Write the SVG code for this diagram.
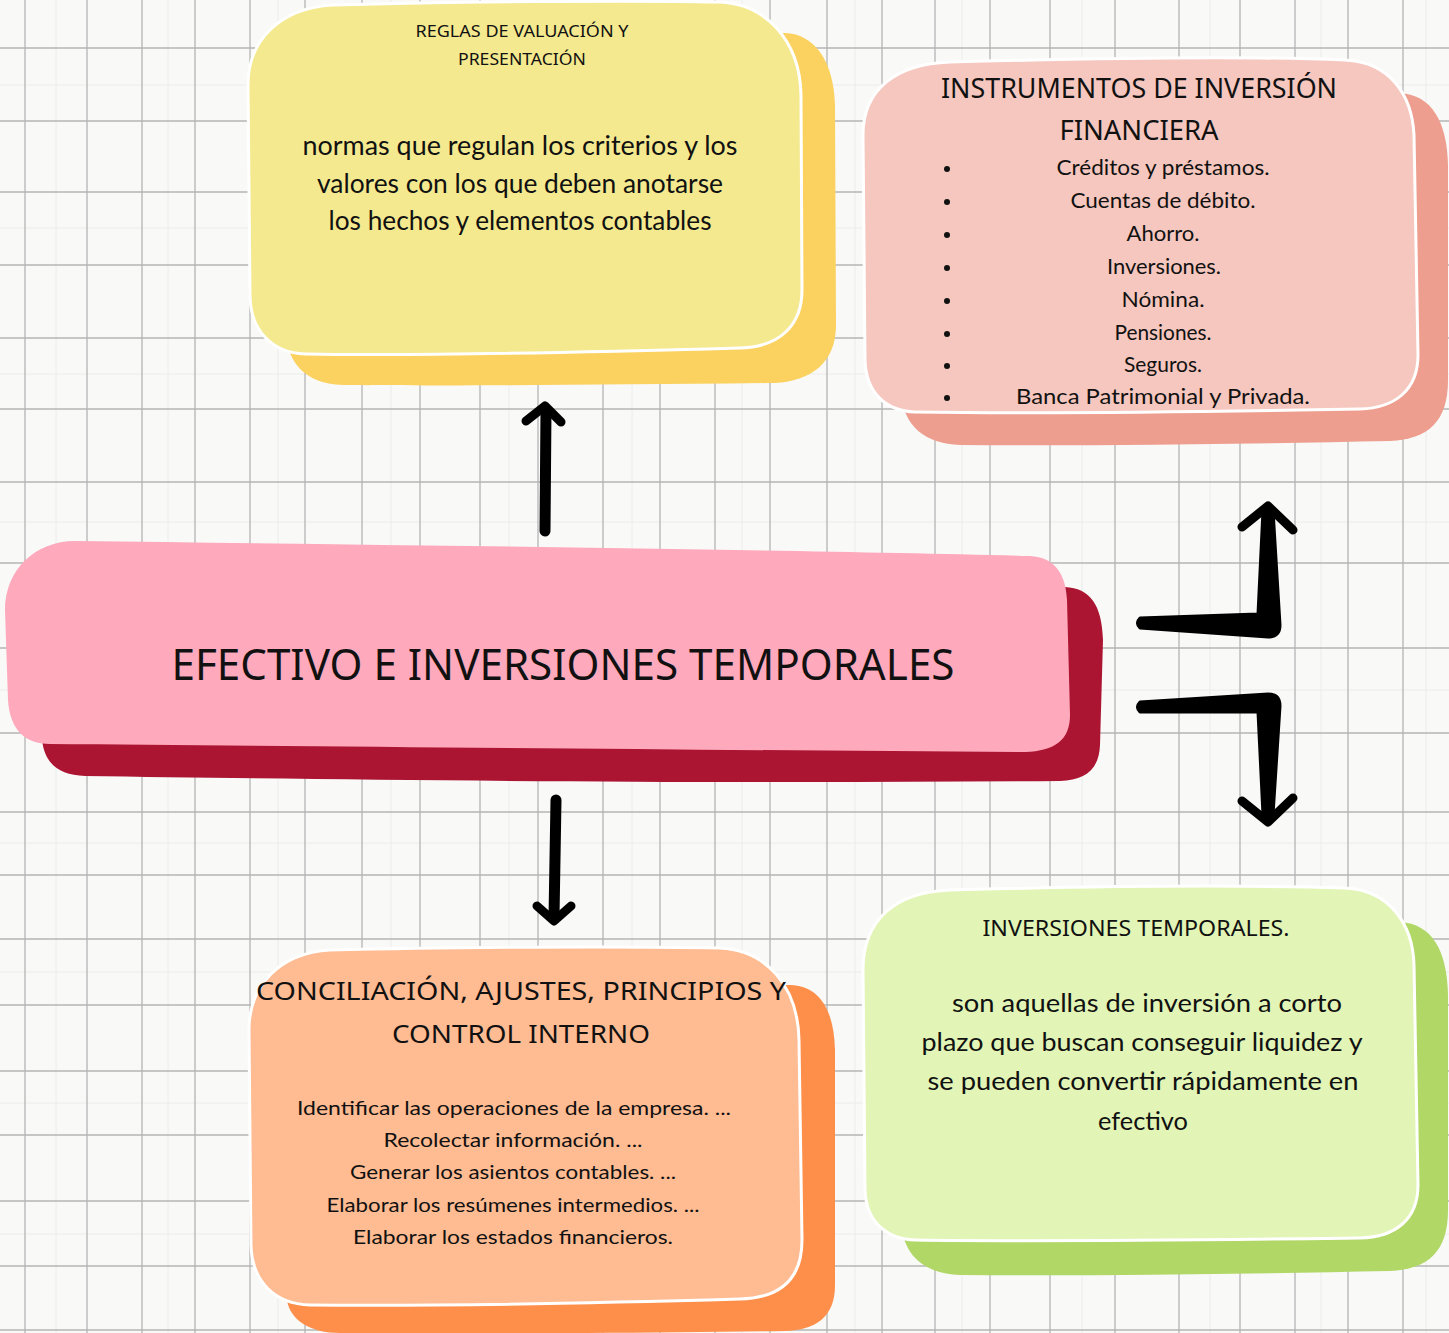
<svg xmlns="http://www.w3.org/2000/svg" width="1449" height="1333" viewBox="0 0 1449 1333">
<defs>
<style>
.bg{fill:#f9f9f8}
.grid line{stroke:#b4b4b4;stroke-width:1.3}
.minor line{stroke:#ececec;stroke-width:1}
.front{stroke:#ffffff;stroke-width:3}
.hd{font-family:"Noto Sans","Open Sans",sans-serif;fill:#111;text-anchor:middle}
.bd{font-family:"Lato","Open Sans",sans-serif;fill:#111;text-anchor:middle}
.shaft{fill:none;stroke:#000;stroke-linecap:round;stroke-linejoin:round}
.chev{fill:none;stroke:#000;stroke-width:9;stroke-linecap:round;stroke-linejoin:round}
.ell{fill:#000;stroke:#000;stroke-width:3;stroke-linejoin:round}
</style>
</defs>
<rect class="bg" x="0" y="0" width="1449" height="1333"/>
<g class="minor">
<line x1="56" y1="0" x2="56" y2="1333"/><line x1="168" y1="0" x2="168" y2="1333"/><line x1="278" y1="0" x2="278" y2="1333"/><line x1="391" y1="0" x2="391" y2="1333"/><line x1="509" y1="0" x2="509" y2="1333"/><line x1="632" y1="0" x2="632" y2="1333"/><line x1="742" y1="0" x2="742" y2="1333"/><line x1="855" y1="0" x2="855" y2="1333"/><line x1="962" y1="0" x2="962" y2="1333"/><line x1="1082" y1="0" x2="1082" y2="1333"/><line x1="1210" y1="0" x2="1210" y2="1333"/><line x1="1321" y1="0" x2="1321" y2="1333"/><line x1="1426" y1="0" x2="1426" y2="1333"/>
<line x1="0" y1="85" x2="1449" y2="85"/><line x1="0" y1="228" x2="1449" y2="228"/><line x1="0" y1="374" x2="1449" y2="374"/><line x1="0" y1="522" x2="1449" y2="522"/><line x1="0" y1="690" x2="1449" y2="690"/><line x1="0" y1="843" x2="1449" y2="843"/><line x1="0" y1="972" x2="1449" y2="972"/><line x1="0" y1="1103" x2="1449" y2="1103"/><line x1="0" y1="1234" x2="1449" y2="1234"/>
</g>
<g class="grid">
<line x1="25" y1="0" x2="25" y2="1333"/><line x1="87" y1="0" x2="87" y2="1333"/><line x1="142" y1="0" x2="142" y2="1333"/><line x1="195" y1="0" x2="195" y2="1333"/><line x1="250" y1="0" x2="250" y2="1333"/><line x1="305" y1="0" x2="305" y2="1333"/><line x1="362" y1="0" x2="362" y2="1333"/><line x1="420" y1="0" x2="420" y2="1333"/><line x1="480" y1="0" x2="480" y2="1333"/><line x1="538" y1="0" x2="538" y2="1333"/><line x1="603" y1="0" x2="603" y2="1333"/><line x1="660" y1="0" x2="660" y2="1333"/><line x1="715" y1="0" x2="715" y2="1333"/><line x1="770" y1="0" x2="770" y2="1333"/><line x1="827" y1="0" x2="827" y2="1333"/><line x1="882" y1="0" x2="882" y2="1333"/><line x1="935" y1="0" x2="935" y2="1333"/><line x1="990" y1="0" x2="990" y2="1333"/><line x1="1050" y1="0" x2="1050" y2="1333"/><line x1="1115" y1="0" x2="1115" y2="1333"/><line x1="1179" y1="0" x2="1179" y2="1333"/><line x1="1240" y1="0" x2="1240" y2="1333"/><line x1="1295" y1="0" x2="1295" y2="1333"/><line x1="1348" y1="0" x2="1348" y2="1333"/><line x1="1403" y1="0" x2="1403" y2="1333"/>
<line x1="0" y1="48" x2="1449" y2="48"/><line x1="0" y1="121" x2="1449" y2="121"/><line x1="0" y1="192" x2="1449" y2="192"/><line x1="0" y1="265" x2="1449" y2="265"/><line x1="0" y1="338" x2="1449" y2="338"/><line x1="0" y1="409" x2="1449" y2="409"/><line x1="0" y1="482" x2="1449" y2="482"/><line x1="0" y1="563" x2="1449" y2="563"/><line x1="0" y1="648" x2="1449" y2="648"/><line x1="0" y1="733" x2="1449" y2="733"/><line x1="0" y1="812" x2="1449" y2="812"/><line x1="0" y1="875" x2="1449" y2="875"/><line x1="0" y1="939" x2="1449" y2="939"/><line x1="0" y1="1005" x2="1449" y2="1005"/><line x1="0" y1="1071" x2="1449" y2="1071"/><line x1="0" y1="1135" x2="1449" y2="1135"/><line x1="0" y1="1201" x2="1449" y2="1201"/><line x1="0" y1="1266" x2="1449" y2="1266"/><line x1="0" y1="1330" x2="1449" y2="1330"/>
</g>

<g id="connectors">
<path class="shaft" stroke-width="11" d="M545,531 L546,410"/>
<path class="chev" d="M526,421 L545,406 L561,422"/>
<path class="shaft" stroke-width="11" d="M556,800 L554,917"/>
<path class="chev" d="M537,906 L554,921 L571,906"/>
<path class="ell" d="M1140,618 L1258,614 L1263,510 L1273,510 L1280,625 Q1280,637 1268,637 L1140,628 Q1135,623 1140,618 Z"/>
<path class="chev" stroke-width="10" d="M1242,527 L1268,506 L1293,530"/>
<path class="ell" d="M1140,702 L1268,694 Q1280,694 1280,706 L1273,815 L1263,815 L1258,712 L1140,712 Q1135,707 1140,702 Z"/>
<path class="chev" stroke-width="10" d="M1242,801 L1268,822 L1293,798"/>
</g>

<g id="node-reglas">
<path fill="#fbd160" d="M360,38 C500,35 650,33 785,33 C815,34 834,62 835,105 L836,325 C836,362 812,381 775,383 C600,385 450,386 345,385 C312,385 290,368 287,340 L285,100 C285,60 315,39 360,38 Z"/>
<path class="front" fill="#f4e98f" d="M333,5 C450,2 620,0 718,2 C765,3 800,40 801,95 L802,290 C802,325 780,347 740,348 C600,352 420,356 305,354 C272,353 250,330 250,295 L248,85 C248,40 280,8 333,5 Z"/>
<text class="hd" font-size="17" x="522" y="37" textLength="213" lengthAdjust="spacingAndGlyphs">REGLAS DE VALUACIÓN Y</text>
<text class="hd" font-size="17" x="522" y="65" textLength="128" lengthAdjust="spacingAndGlyphs">PRESENTACIÓN</text>
<text class="bd" font-size="26" x="520" y="155" textLength="435" lengthAdjust="spacingAndGlyphs">normas que regulan los criterios y los</text>
<text class="bd" font-size="26" x="520" y="193" textLength="406" lengthAdjust="spacingAndGlyphs">valores con los que deben anotarse</text>
<text class="bd" font-size="26" x="520" y="230" textLength="383" lengthAdjust="spacingAndGlyphs">los hechos y elementos contables</text>
</g>

<g id="node-instrumentos">
<path fill="#ee9e8e" d="M990,94 C1150,92 1300,91 1400,93 C1432,95 1447,122 1448,165 L1448,380 C1448,422 1428,439 1390,441 C1250,444 1100,446 960,445 C925,444 903,425 902,395 L900,150 C900,115 930,95 990,94 Z"/>
<path class="front" fill="#f5c7be" d="M950,62 C1100,58 1250,56 1345,60 C1390,62 1412,95 1414,135 L1418,355 C1418,390 1395,408 1360,409 C1200,412 1050,414 915,412 C885,411 866,392 865,360 L863,135 C863,90 895,64 950,62 Z"/>
<text class="hd" font-size="27" x="1139" y="98" textLength="396" lengthAdjust="spacingAndGlyphs">INSTRUMENTOS DE INVERSIÓN</text>
<text class="hd" font-size="27" x="1139" y="140" textLength="159" lengthAdjust="spacingAndGlyphs">FINANCIERA</text>
<g fill="#111">
<circle cx="947" cy="169" r="3"/><circle cx="947" cy="202" r="3"/><circle cx="947" cy="235" r="3"/><circle cx="947" cy="268" r="3"/><circle cx="947" cy="301" r="3"/><circle cx="947" cy="334" r="3"/><circle cx="947" cy="366" r="3"/><circle cx="947" cy="398" r="3"/>
</g>
<text class="bd" font-size="21" x="1163" y="175" textLength="213" lengthAdjust="spacingAndGlyphs">Créditos y préstamos.</text>
<text class="bd" font-size="21" x="1163" y="208" textLength="185" lengthAdjust="spacingAndGlyphs">Cuentas de débito.</text>
<text class="bd" font-size="21" x="1163" y="241" textLength="73" lengthAdjust="spacingAndGlyphs">Ahorro.</text>
<text class="bd" font-size="21" x="1164" y="274" textLength="114" lengthAdjust="spacingAndGlyphs">Inversiones.</text>
<text class="bd" font-size="21" x="1163" y="307" textLength="83" lengthAdjust="spacingAndGlyphs">Nómina.</text>
<text class="bd" font-size="21" x="1163" y="340" textLength="97" lengthAdjust="spacingAndGlyphs">Pensiones.</text>
<text class="bd" font-size="21" x="1163" y="372" textLength="78" lengthAdjust="spacingAndGlyphs">Seguros.</text>
<text class="bd" font-size="21" x="1163" y="404" textLength="294" lengthAdjust="spacingAndGlyphs">Banca Patrimonial y Privada.</text>
</g>

<g id="node-central">
<path fill="#ab1532" d="M80,590 C400,589 800,588 1065,587 C1090,588 1102,605 1103,640 L1100,745 C1099,770 1085,780 1060,781 C700,784 350,780 85,776 C60,775 45,765 42,740 L40,620 C40,600 55,590 80,590 Z"/>
<path fill="#ffa9bc" d="M75,541 C400,545 800,550 1030,556 C1055,557 1066,575 1067,600 L1070,715 C1070,740 1055,751 1025,752 C700,750 300,746 50,744 C25,744 10,730 8,700 L5,610 C5,570 35,541 75,541 Z"/>
<text class="hd" font-size="44" x="563" y="680" textLength="783" lengthAdjust="spacingAndGlyphs">EFECTIVO E INVERSIONES TEMPORALES</text>
</g>

<g id="node-conciliacion">
<path fill="#fe8f4b" d="M360,990 C500,988 650,986 790,985 C820,986 834,1010 835,1050 L835,1285 C835,1318 815,1330 785,1331 C650,1333 480,1334 340,1333 C310,1333 290,1320 287,1300 L285,1050 C285,1012 315,991 360,990 Z"/>
<path class="front" fill="#ffbb91" d="M330,950 C450,947 620,946 720,948 C765,950 798,985 799,1040 L802,1240 C802,1280 780,1298 740,1299 C600,1303 420,1306 310,1305 C275,1304 252,1282 251,1245 L249,1030 C249,985 280,953 330,950 Z"/>
<text class="hd" font-size="26" x="521" y="1000" textLength="530" lengthAdjust="spacingAndGlyphs">CONCILIACIÓN, AJUSTES, PRINCIPIOS Y</text>
<text class="hd" font-size="26" x="521" y="1043" textLength="258" lengthAdjust="spacingAndGlyphs">CONTROL INTERNO</text>
<text class="bd" font-size="20" x="514" y="1115" textLength="434" lengthAdjust="spacingAndGlyphs">Identificar las operaciones de la empresa. ...</text>
<text class="bd" font-size="20" x="513" y="1147" textLength="259" lengthAdjust="spacingAndGlyphs">Recolectar información. ...</text>
<text class="bd" font-size="20" x="513" y="1179" textLength="326" lengthAdjust="spacingAndGlyphs">Generar los asientos contables. ...</text>
<text class="bd" font-size="20" x="513" y="1212" textLength="373" lengthAdjust="spacingAndGlyphs">Elaborar los resúmenes intermedios. ...</text>
<text class="bd" font-size="20" x="513" y="1244" textLength="320" lengthAdjust="spacingAndGlyphs">Elaborar los estados financieros.</text>
</g>

<g id="node-temporales">
<path fill="#b1d767" d="M990,924 C1150,922 1300,921 1400,922 C1432,924 1447,950 1448,995 L1448,1210 C1448,1252 1428,1269 1390,1271 C1250,1274 1100,1276 960,1275 C925,1274 903,1255 902,1225 L900,980 C900,945 930,925 990,924 Z"/>
<path class="front" fill="#e2f5b6" d="M950,890 C1100,886 1250,885 1345,888 C1390,890 1413,925 1414,965 L1418,1185 C1418,1220 1395,1237 1360,1238 C1200,1240 1050,1242 915,1240 C885,1239 866,1220 865,1190 L863,970 C863,920 895,892 950,890 Z"/>
<text class="hd" font-size="21" x="1136" y="936" textLength="307" lengthAdjust="spacingAndGlyphs">INVERSIONES TEMPORALES.</text>
<text class="bd" font-size="25" x="1147" y="1012" textLength="390" lengthAdjust="spacingAndGlyphs">son aquellas de inversión a corto</text>
<text class="bd" font-size="25" x="1142" y="1051" textLength="441" lengthAdjust="spacingAndGlyphs">plazo que buscan conseguir liquidez y</text>
<text class="bd" font-size="25" x="1143" y="1090" textLength="431" lengthAdjust="spacingAndGlyphs">se pueden convertir rápidamente en</text>
<text class="bd" font-size="25" x="1143" y="1130" textLength="90" lengthAdjust="spacingAndGlyphs">efectivo</text>
</g>
</svg>
